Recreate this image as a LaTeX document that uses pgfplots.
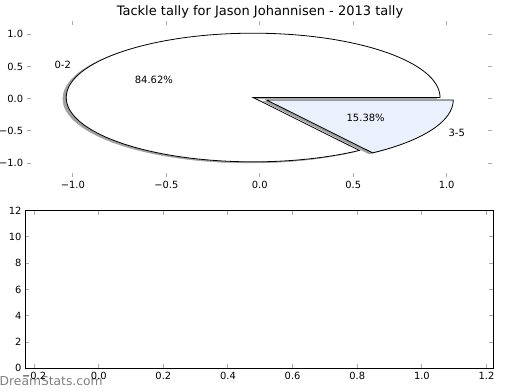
\documentclass[border=0pt]{standalone}
\usepackage{pgfplots}
\pgfplotsset{compat=1.18}
\usepackage{pgfplotstable}
\usepackage{fontspec}
\setmainfont{DejaVu Sans}
\definecolor{wedgeB}{RGB}{234,240,252}
\definecolor{shadowcol}{RGB}{160,160,160}
\definecolor{tickgray}{RGB}{170,170,170}
\definecolor{wmark}{RGB}{128,128,128}

\pgfplotstableread{
label value
0-2 11
3-5 2
}\tackles

\pgfplotstablegetelem{0}{value}\of\tackles\edef\va{\pgfplotsretval}
\pgfplotstablegetelem{1}{value}\of\tackles\edef\vb{\pgfplotsretval}
\pgfplotstablegetelem{0}{label}\of\tackles\edef\la{\pgfplotsretval}
\pgfplotstablegetelem{1}{label}\of\tackles\edef\lb{\pgfplotsretval}
\pgfmathsetmacro\tot{\va+\vb}
\pgfmathsetmacro\angA{360*\va/\tot}
\pgfmathsetmacro\midA{\angA/2}
\pgfmathsetmacro\midB{(\angA+360)/2}
\pgfmathsetmacro\pA{100*\va/\tot}
\pgfmathsetmacro\pB{100*\vb/\tot}
\def\ex{0.04}
\def\sh{-0.018}
\pgfmathsetmacro\cAx{\ex*cos(\midA)}
\pgfmathsetmacro\cAy{\ex*sin(\midA)}
\pgfmathsetmacro\cBx{\ex*cos(\midB)}
\pgfmathsetmacro\cBy{\ex*sin(\midB)}
\pgfmathsetmacro\sAx{\cAx+\sh}
\pgfmathsetmacro\sAy{\cAy+\sh}
\pgfmathsetmacro\sBx{\cBx+\sh}
\pgfmathsetmacro\sBy{\cBy+\sh}
% label positions
\pgfmathsetmacro\lAx{\cAx+1.1*cos(\midA)}
\pgfmathsetmacro\lAy{\cAy+1.1*sin(\midA)}
\pgfmathsetmacro\lBx{\cBx+1.1*cos(\midB)}
\pgfmathsetmacro\lBy{\cBy+1.1*sin(\midB)}
\pgfmathsetmacro\qAx{\cAx+0.6*cos(\midA)}
\pgfmathsetmacro\qAy{\cAy+0.6*sin(\midA)}
\pgfmathsetmacro\qBx{\cBx+0.6*cos(\midB)}
\pgfmathsetmacro\qBy{\cBy+0.6*sin(\midB)}
% start/end points
\pgfmathsetmacro\eAx{cos(\angA)}
\pgfmathsetmacro\eAy{sin(\angA)}

\pgfplotsset{
  every tick label/.append style={font=\fontsize{9.9bp}{11bp}\selectfont},
  /pgf/number format/assume math mode=true,
  tick style={tickgray, line width=1bp},
  major tick length=4bp,
  tick align=inside,
}

\begin{document}
\begin{tikzpicture}[x=1bp,y=1bp]
\useasboundingbox (0,0) rectangle (520,-390);
\node[anchor=base, font=\fontsize{13bp}{15bp}\selectfont] at (260,-15) {Tackle tally for Jason Johannisen - 2013 tally};

\begin{axis}[
  at={(26.7bp,-177.3bp)}, anchor=south west,
  scale only axis, width=465bp, height=156.3bp,
  xmin=-1.247, xmax=1.241, ymin=-1.222, ymax=1.208,
  axis line style={draw=none},
  xtick={-1,-0.5,0,0.5,1}, xticklabels={−1.0,−0.5,0.0,0.5,1.0},
  ytick={-1,-0.5,0,0.5,1}, yticklabels={−1.0,−0.5,0.0,0.5,1.0},
  clip=false,
]
% shadows
\fill[shadowcol, draw=shadowcol] (axis cs:\sAx,\sAy) -- (axis cs:\sAx+1,\sAy) arc[start angle=0, end angle=\angA, x radius=1, y radius=1] -- cycle;
\fill[shadowcol, draw=shadowcol] (axis cs:\sBx,\sBy) -- (axis cs:\sBx+\eAx,\sBy+\eAy) arc[start angle=\angA, end angle=360, x radius=1, y radius=1] -- cycle;
% wedges
\filldraw[fill=white, draw=black, line width=0.8bp, line join=miter] (axis cs:\cAx,\cAy) -- (axis cs:\cAx+1,\cAy) arc[start angle=0, end angle=\angA, x radius=1, y radius=1] -- cycle;
\filldraw[fill=wedgeB, draw=black, line width=0.8bp, line join=miter] (axis cs:\cBx,\cBy) -- (axis cs:\cBx+\eAx,\cBy+\eAy) arc[start angle=\angA, end angle=360, x radius=1, y radius=1] -- cycle;
% labels
\node[anchor=east, inner sep=0, font=\fontsize{10bp}{12bp}\selectfont] at (axis cs:\lAx,\lAy) {\la};
\node[anchor=west, inner sep=0, font=\fontsize{10bp}{12bp}\selectfont] at (axis cs:\lBx,\lBy) {\lb};
\node[inner sep=0, font=\fontsize{10bp}{12bp}\selectfont] at (axis cs:\qAx,\qAy) {\pgfmathprintnumber[fixed,fixed zerofill,precision=2]{\pA}\%};
\node[inner sep=0, font=\fontsize{10bp}{12bp}\selectfont] at (axis cs:\qBx,\qBy) {\pgfmathprintnumber[fixed,fixed zerofill,precision=2]{\pB}\%};
\end{axis}

\node[anchor=west, inner sep=0, text=wmark, font=\fontsize{12.3bp}{14bp}\selectfont] at (-0.5,-381) {DreamStats.com};

\begin{axis}[
  at={(25bp,-368.3bp)}, anchor=south west,
  scale only axis, width=468.3bp, height=157.6bp,
  xmin=-0.228, xmax=1.221, ymin=0, ymax=12,
  axis line style={black, line width=1bp},
  xtick={-0.2,0,0.2,0.4,0.6,0.8,1.0,1.2},
  xticklabels={−0.2,0.0,0.2,0.4,0.6,0.8,1.0,1.2},
  ytick={0,2,4,6,8,10,12},
]
\end{axis}
\end{tikzpicture}
\end{document}
